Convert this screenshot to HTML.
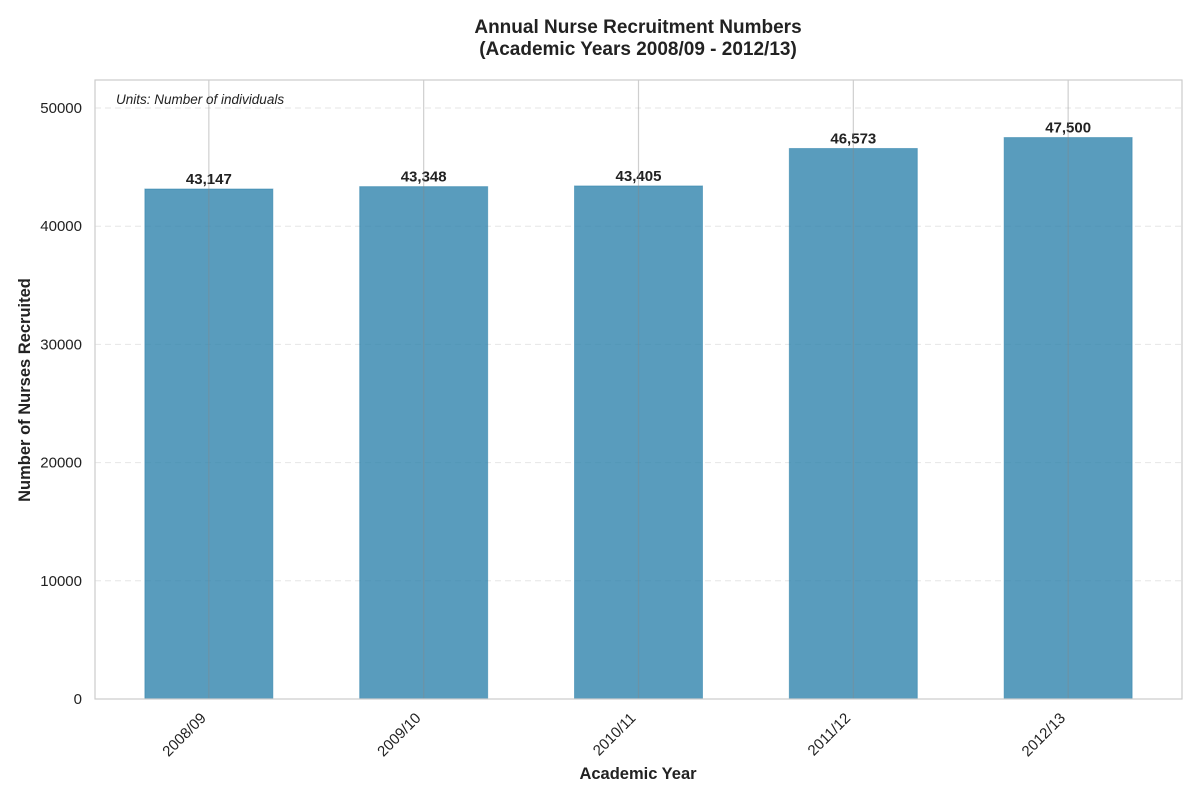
<!DOCTYPE html>
<html><head><meta charset="utf-8"><style>
body{margin:0;background:#fff;font-family:"Liberation Sans",sans-serif}
</style></head><body>
<svg id="chart" width="1200" height="800" xmlns="http://www.w3.org/2000/svg" font-family="Liberation Sans, sans-serif">
<text x="638" y="33" text-anchor="middle" font-size="19" font-weight="bold" fill="#222">Annual Nurse Recruitment Numbers</text>
<text x="638" y="55" text-anchor="middle" font-size="19" font-weight="bold" fill="#222">(Academic Years 2008/09 - 2012/13)</text>
<g id="grid"></g>
<g id="bars"></g>
<g id="vgrid"></g>
<rect x="95" y="80" width="1087" height="619" fill="none" stroke="#ccc" stroke-width="1.2"/>
<g id="ticks"></g>
<text x="116" y="104" font-size="13.5" font-style="italic" fill="#222">Units: Number of individuals</text>
<text x="638" y="779" text-anchor="middle" font-size="16.5" font-weight="bold" fill="#222">Academic Year</text>
<text transform="translate(30,390) rotate(-90)" text-anchor="middle" font-size="16.5" font-weight="bold" fill="#222">Number of Nurses Recruited</text>
</svg>
<script>
const categories = ["2008/09","2009/10","2010/11","2011/12","2012/13"];
const values = [43147,43348,43405,46573,47500];
const yTicks = [0,10000,20000,30000,40000,50000];
const NS="http://www.w3.org/2000/svg";
const L=95,R=1182,T=80,B=699,yMax=52368,xMin=-0.53,xMax=4.53;
const y=v=>B-(v/yMax)*(B-T);
const x=i=>L+(i-xMin)/(xMax-xMin)*(R-L);
const bw=128;
function mk(tag,attrs,parent,txt){const e=document.createElementNS(NS,tag);for(const k in attrs)e.setAttribute(k,attrs[k]);if(txt!==undefined)e.textContent=txt;document.getElementById(parent).appendChild(e);return e;}
yTicks.forEach(t=>{
  const g=mk('line',{x1:L,x2:R,y1:y(t),y2:y(t),stroke:'#e6e6e6','stroke-dasharray':'6,4'},'grid');
  
  
  const l=mk('text',{x:L-13,y:y(t)+5,'text-anchor':'end','font-size':'15',fill:'#222'},'ticks',String(t));
  
  
});
categories.forEach((c,i)=>{
  const cx=x(i);
  const b=mk('rect',{x:cx-bw/2,y:y(values[i]),width:bw,height:B-y(values[i]),fill:'#2a80aa','fill-opacity':'0.78',stroke:'#2a80aa','stroke-opacity':'0.5'},'bars');
  
  
  const v=mk('text',{x:cx,y:y(values[i])-5,'text-anchor':'middle','font-size':'15','font-weight':'bold',fill:'#222'},'bars',values[i].toLocaleString('en-US'));
  
  
  const g=mk('line',{x1:cx,x2:cx,y1:T,y2:B,stroke:'#888','stroke-opacity':'0.4','stroke-width':'1.2'},'vgrid');
  
  
  const l=mk('text',{transform:`translate(${cx-2},${B+20}) rotate(-45)`,'text-anchor':'end','font-size':'15',fill:'#222'},'ticks',c);
  
  
});
</script>
</body></html>
